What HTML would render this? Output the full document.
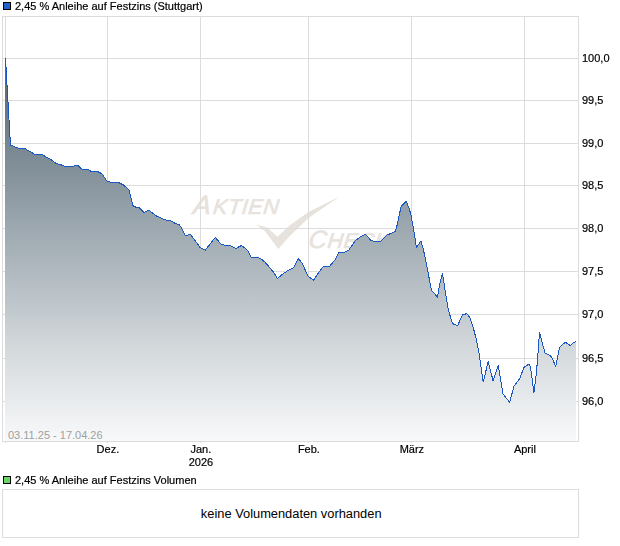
<!DOCTYPE html>
<html><head><meta charset="utf-8">
<style>
html,body{margin:0;padding:0;background:#fff;}
svg{display:block;}
.t{font-family:"Liberation Sans",sans-serif;font-size:11px;fill:#000;}
.gs .t{stroke:#000;stroke-width:0.2;}
.wm{font-family:"Liberation Sans",sans-serif;font-style:italic;fill:#e7e2dc;}
</style></head><body>
<svg width="620" height="546" viewBox="0 0 620 546">
<defs>
<linearGradient id="g" gradientUnits="userSpaceOnUse" x1="0" y1="58" x2="0" y2="441">
<stop offset="0" stop-color="#506371"/>
<stop offset="0.509" stop-color="#a8b2b9"/>
<stop offset="0.77" stop-color="#d5dadd"/>
<stop offset="1" stop-color="#f8f9fa"/>
</linearGradient>
</defs>
<rect x="0" y="0" width="620" height="546" fill="#fff"/>
<!-- legend 1 -->
<rect x="3.5" y="2.5" width="7" height="7" fill="#2162cc" stroke="#000" stroke-width="1"/>
<g class="gs" style="will-change:transform"><text x="15" y="10" class="t">2,45 % Anleihe auf Festzins (Stuttgart)</text></g>
<!-- watermark -->
<g transform="translate(0,213.6) skewX(-6) translate(0,-213.6)">
<text x="192.5" y="213.6" class="wm" font-size="26.5" stroke="#e7e2dc" stroke-width="0.6">A<tspan x="212.5" font-size="21.5" letter-spacing="0.6">KTIEN</tspan></text>
</g>
<path d="M256.1,224.5 L266.9,227.5 L277.6,236.7 L289.8,225.2 L308.2,212.2 L339.6,196.4 L308.2,218.3 L289.8,236 L278.3,249 L265.3,231.4 Z" fill="#e7e2dc"/>
<g transform="translate(0,248) skewX(-6) translate(0,-248)">
<text x="308" y="248" class="wm" font-size="25" stroke="#e7e2dc" stroke-width="0.6">C<tspan x="327" font-size="21.5" letter-spacing="0.6">HECK</tspan></text>
</g>
<!-- grid -->
<rect x="3" y="58" width="575" height="1" fill="#dcdcdc"/>
<rect x="3" y="100" width="575" height="1" fill="#dcdcdc"/>
<rect x="3" y="143" width="575" height="1" fill="#dcdcdc"/>
<rect x="3" y="185" width="575" height="1" fill="#dcdcdc"/>
<rect x="3" y="228" width="575" height="1" fill="#dcdcdc"/>
<rect x="3" y="271" width="575" height="1" fill="#dcdcdc"/>
<rect x="3" y="314" width="575" height="1" fill="#dcdcdc"/>
<rect x="3" y="358" width="575" height="1" fill="#dcdcdc"/>
<rect x="3" y="401" width="575" height="1" fill="#dcdcdc"/>
<rect x="107" y="17" width="1" height="424" fill="#dcdcdc"/>
<rect x="200" y="17" width="1" height="424" fill="#dcdcdc"/>
<rect x="308" y="17" width="1" height="424" fill="#dcdcdc"/>
<rect x="411" y="17" width="1" height="424" fill="#dcdcdc"/>
<rect x="524" y="17" width="1" height="424" fill="#dcdcdc"/>
<rect x="2" y="16" width="577" height="1" fill="#dcdcdc"/>
<rect x="2" y="441" width="577" height="1" fill="#dcdcdc"/>
<rect x="2" y="16" width="1" height="426" fill="#dcdcdc"/>
<rect x="578" y="16" width="1" height="426" fill="#dcdcdc"/>
<rect x="5" y="17" width="1" height="424" fill="#dcdcdc"/>
<rect x="5" y="442" width="1" height="1" fill="#dcdcdc"/>
<rect x="107" y="442" width="1" height="1" fill="#dcdcdc"/>
<rect x="200" y="442" width="1" height="1" fill="#dcdcdc"/>
<rect x="308" y="442" width="1" height="1" fill="#dcdcdc"/>
<rect x="411" y="442" width="1" height="1" fill="#dcdcdc"/>
<rect x="524" y="442" width="1" height="1" fill="#dcdcdc"/>
<!-- fill + line -->
<path d="M5.5,58.3 L10.5,145.2 L13.7,146.2 L16,147.5 L19.2,148.3 L25,148.5 L27,150 L31,152 L34,154 L41,154 L43,155 L45,156.5 L50.5,159.2 L56,163.4 L59.6,164.3 L65.6,166.6 L73.4,166.6 L74.8,165.2 L77.5,165.2 L82.1,169.3 L88.5,169.3 L91.2,171.6 L97.3,171.4 L101.9,173.7 L106.9,181.1 L110.1,182 L118.4,182.4 L123,184.7 L126.6,187.5 L128.9,189.8 L133,205.8 L135.8,207.2 L138.7,207.4 L143.7,212.4 L146,211.5 L148.7,210.4 L151.9,212.4 L155.6,215.6 L158.8,217 L163.4,219.3 L167,220.2 L170.3,220.6 L175.3,223.4 L179.4,224.8 L181.7,228.4 L185,235.1 L186.9,235.6 L189.2,234.2 L190.5,234.5 L200.1,247.5 L202.9,249.1 L205.2,250.2 L215.3,237.4 L221.2,244.3 L224.9,245.2 L228.7,245.4 L232.3,246.5 L236,248.6 L238.7,246.9 L241.3,245.6 L244.2,247.4 L247,249.7 L249.3,253.4 L251.1,257.3 L258.4,257.5 L262.1,259.5 L265.3,262.5 L273.5,272.1 L277.3,278.4 L283.7,273.4 L288.3,270.2 L293.4,267.9 L298.4,258.6 L302.5,263.8 L308,276.1 L313.5,280.3 L317.3,274.5 L323.2,266.7 L329.2,266.7 L334.7,260.3 L338.8,252.9 L344.3,252.3 L348.9,249.9 L351.6,246.1 L355.3,240.6 L360.8,236.4 L365,234.4 L367.3,236.2 L370.5,240.1 L373.7,241.2 L380.6,241.2 L386.6,235.3 L391.1,233.3 L395.3,231.2 L397.1,225.2 L399.4,214.2 L401.2,206.4 L406.2,201.4 L408.7,207.3 L411,214.7 L413.2,227.5 L415.1,238.5 L416.4,247.6 L421,240.9 L423.7,251 L427.8,271.1 L431.4,290.1 L437.4,297 L440.1,282.7 L442.5,273.4 L445.6,293.7 L448.4,310.2 L452.5,323.5 L457.5,325.8 L462.5,314.8 L466.7,313.7 L469.9,317.5 L473.2,327.3 L476,338.3 L478.7,351.1 L483.2,382.2 L488.2,361.5 L493.1,380.8 L498.3,365.4 L503,394 L509.6,402.2 L514,386.3 L520,378 L523.8,367.6 L526,366.1 L528.9,364.2 L530.4,366.9 L534,392.5 L536.2,374.2 L537.3,362.5 L539.5,332.4 L540.6,336.8 L545,353 L549.4,355.1 L551.6,357.3 L555.7,366.1 L559.7,347.1 L562.7,344.4 L565.5,342.4 L568.8,344.4 L570.4,345.7 L572.6,343.5 L575.7,341.5 L576,441 L5,441 Z" fill="url(#g)" shape-rendering="crispEdges"/>
<path d="M5.5,58.3 L10.5,145.2 L13.7,146.2 L16,147.5 L19.2,148.3 L25,148.5 L27,150 L31,152 L34,154 L41,154 L43,155 L45,156.5 L50.5,159.2 L56,163.4 L59.6,164.3 L65.6,166.6 L73.4,166.6 L74.8,165.2 L77.5,165.2 L82.1,169.3 L88.5,169.3 L91.2,171.6 L97.3,171.4 L101.9,173.7 L106.9,181.1 L110.1,182 L118.4,182.4 L123,184.7 L126.6,187.5 L128.9,189.8 L133,205.8 L135.8,207.2 L138.7,207.4 L143.7,212.4 L146,211.5 L148.7,210.4 L151.9,212.4 L155.6,215.6 L158.8,217 L163.4,219.3 L167,220.2 L170.3,220.6 L175.3,223.4 L179.4,224.8 L181.7,228.4 L185,235.1 L186.9,235.6 L189.2,234.2 L190.5,234.5 L200.1,247.5 L202.9,249.1 L205.2,250.2 L215.3,237.4 L221.2,244.3 L224.9,245.2 L228.7,245.4 L232.3,246.5 L236,248.6 L238.7,246.9 L241.3,245.6 L244.2,247.4 L247,249.7 L249.3,253.4 L251.1,257.3 L258.4,257.5 L262.1,259.5 L265.3,262.5 L273.5,272.1 L277.3,278.4 L283.7,273.4 L288.3,270.2 L293.4,267.9 L298.4,258.6 L302.5,263.8 L308,276.1 L313.5,280.3 L317.3,274.5 L323.2,266.7 L329.2,266.7 L334.7,260.3 L338.8,252.9 L344.3,252.3 L348.9,249.9 L351.6,246.1 L355.3,240.6 L360.8,236.4 L365,234.4 L367.3,236.2 L370.5,240.1 L373.7,241.2 L380.6,241.2 L386.6,235.3 L391.1,233.3 L395.3,231.2 L397.1,225.2 L399.4,214.2 L401.2,206.4 L406.2,201.4 L408.7,207.3 L411,214.7 L413.2,227.5 L415.1,238.5 L416.4,247.6 L421,240.9 L423.7,251 L427.8,271.1 L431.4,290.1 L437.4,297 L440.1,282.7 L442.5,273.4 L445.6,293.7 L448.4,310.2 L452.5,323.5 L457.5,325.8 L462.5,314.8 L466.7,313.7 L469.9,317.5 L473.2,327.3 L476,338.3 L478.7,351.1 L483.2,382.2 L488.2,361.5 L493.1,380.8 L498.3,365.4 L503,394 L509.6,402.2 L514,386.3 L520,378 L523.8,367.6 L526,366.1 L528.9,364.2 L530.4,366.9 L534,392.5 L536.2,374.2 L537.3,362.5 L539.5,332.4 L540.6,336.8 L545,353 L549.4,355.1 L551.6,357.3 L555.7,366.1 L559.7,347.1 L562.7,344.4 L565.5,342.4 L568.8,344.4 L570.4,345.7 L572.6,343.5 L575.7,341.5" fill="none" stroke="#1b57c3" stroke-width="1" shape-rendering="crispEdges"/>
<text x="8" y="439" class="t" fill="#a0a0a0" style="fill:#a0a0a0">03.11.25 - 17.04.26</text>
<g class="gs" style="will-change:transform">
<text x="582" y="61.5" class="t">100,0</text>
<text x="582" y="103.5" class="t">99,5</text>
<text x="582" y="146.5" class="t">99,0</text>
<text x="582" y="188.5" class="t">98,5</text>
<text x="582" y="231.5" class="t">98,0</text>
<text x="582" y="274.5" class="t">97,5</text>
<text x="582" y="317.5" class="t">97,0</text>
<text x="582" y="361.5" class="t">96,5</text>
<text x="582" y="404.5" class="t">96,0</text>
<text x="107.9" y="453" class="t" text-anchor="middle">Dez.</text>
<text x="200.9" y="453" class="t" text-anchor="middle">Jan.</text>
<text x="308.9" y="453" class="t" text-anchor="middle">Feb.</text>
<text x="411.9" y="453" class="t" text-anchor="middle">März</text>
<text x="524.9" y="453" class="t" text-anchor="middle">April</text>
<text x="200.9" y="466" class="t" text-anchor="middle">2026</text>
</g>
<!-- legend 2 -->
<rect x="3.5" y="476.5" width="7" height="7" fill="#66d466" stroke="#000" stroke-width="1"/>
<g class="gs" style="will-change:transform"><text x="15" y="484" class="t">2,45 % Anleihe auf Festzins Volumen</text></g>
<rect x="2.5" y="489.5" width="576" height="48" fill="none" stroke="#dcdcdc" stroke-width="1"/>
<text x="291.2" y="518" style="font-family:'Liberation Sans',sans-serif;font-size:12.85px;fill:#000" text-anchor="middle">keine Volumendaten vorhanden</text>
</svg>
</body></html>
